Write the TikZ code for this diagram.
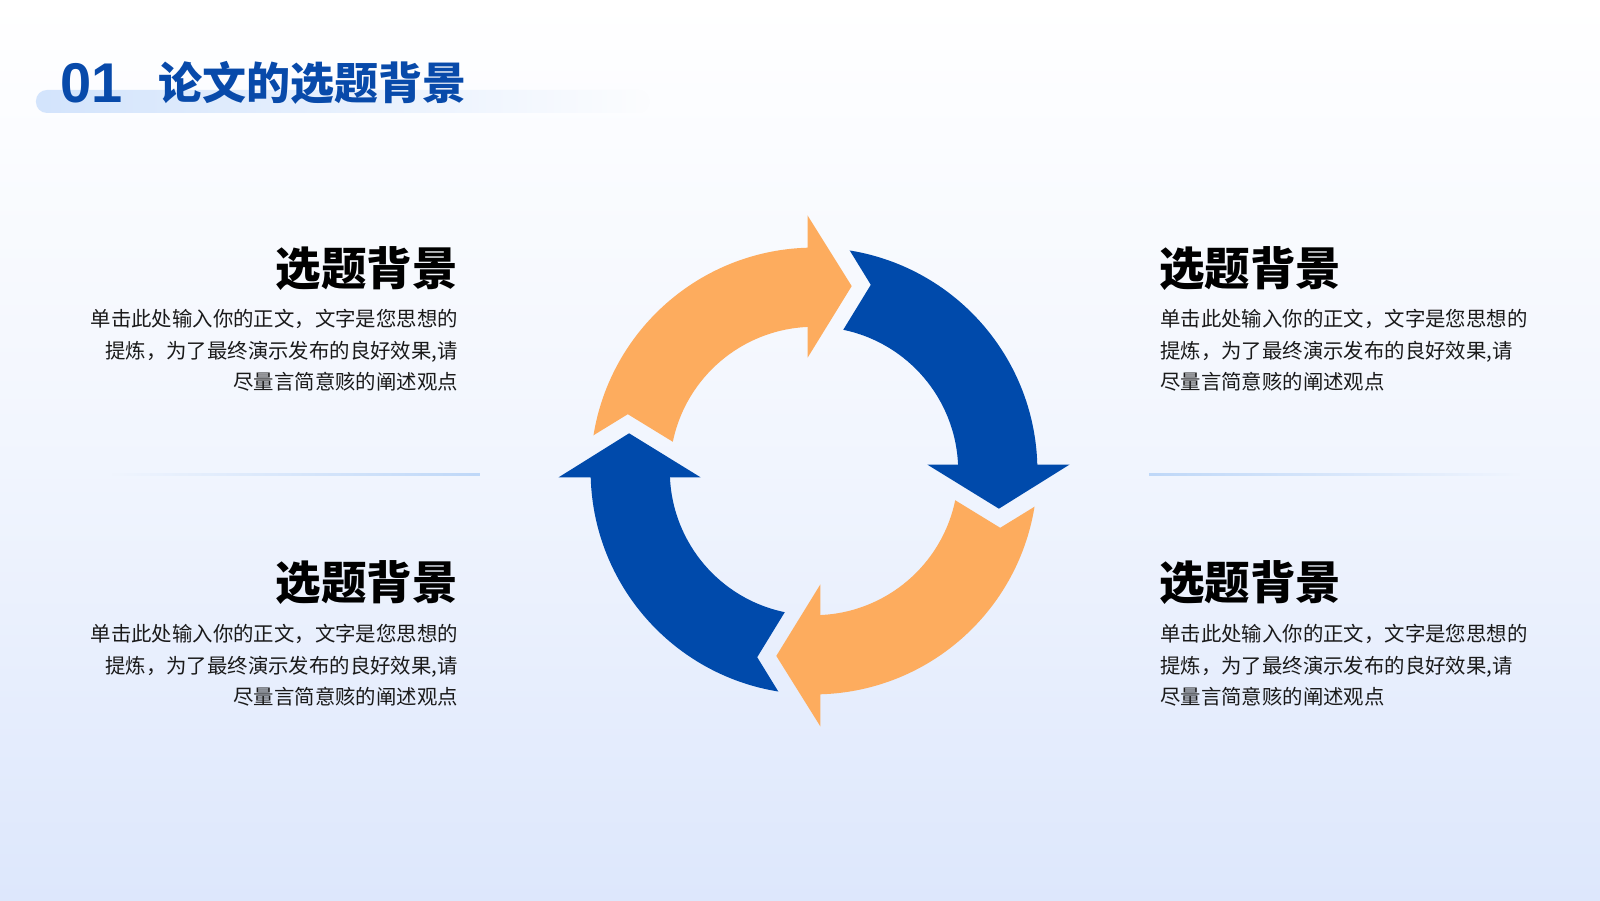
\documentclass[tikz,border=0pt]{standalone}
\usepackage{fontspec}
\setmainfont{Noto Sans CJK SC}
\newfontfamily\cjk{Noto Sans CJK SC}
\newfontfamily\numfont{Liberation Sans}
\usetikzlibrary{fadings}
\definecolor{bgtop}{HTML}{FFFFFF}
\definecolor{bgbot}{HTML}{DDE7FC}
\definecolor{arrowblue}{RGB}{0,74,171}
\definecolor{arroworange}{RGB}{253,172,94}
\definecolor{titleblue}{RGB}{8,74,170}
\definecolor{barblue}{HTML}{D3E4FC}
\definecolor{lineblue}{HTML}{BFD8F8}
\definecolor{bodytxt}{HTML}{1A1A1A}
\begin{document}
\begin{tikzpicture}[x=1pt,y=1pt,
  hd/.style={font=\cjk\bfseries\fontsize{45.5}{45.5}\selectfont, text=black, inner sep=0pt},
  bd/.style={font=\cjk\fontsize{20.4}{31}\selectfont, text=bodytxt, inner sep=0pt}]
\useasboundingbox (0,0) rectangle (1600,900);
% background
\shade[top color=bgtop, bottom color=bgbot, middle color=bgtop!60!bgbot] (0,0) rectangle (1600,900);
% title bar
\fill[barblue, path fading=east, rounded corners=11pt] (36,787) rectangle (650,810);
\node[anchor=base west, inner sep=0pt, text=titleblue, font=\numfont\bfseries\fontsize{56}{56}\selectfont] (num) at (60,797) {01};
\node[anchor=base west, inner sep=0pt, text=titleblue, font=\cjk\bfseries\fontsize{44}{44}\selectfont] (title) at (158,800) {论文的选题背景};
% dividers
\fill[lineblue, path fading=west] (112,424) rectangle (480,427);
\fill[lineblue, path fading=east] (1149,424) rectangle (1520,427);
% cycle arrows
\foreach \k/\c in {0/arroworange,1/arrowblue,2/arroworange,3/arrowblue}{
  \begin{scope}[shift={(814,429)}, rotate=-90*\k]
    \fill[\c] (-6.4,255.5) -- (37.7,184.9) -- (-6.4,113.3) -- (92.5:144.2)
      arc[start angle=92.5, end angle=168.3, radius=144.2]
      -- (-186.2,56.8) -- (170.8:223.4)
      arc[start angle=170.8, end angle=91.64, radius=223.4] -- cycle;
  \end{scope}
}
% left top block
\node[hd, anchor=base east] (hlt) at (458,614) {选题背景};
\node[bd, anchor=base east] (lt1) at (458,573) {单击此处输入你的正文，文字是您思想的};
\node[bd, anchor=base east] (lt2) at (458,541.5) {提炼，为了最终演示发布的良好效果,请};
\node[bd, anchor=base east] (lt3) at (458,510.5) {尽量言简意赅的阐述观点};
% left bottom block
\node[hd, anchor=base east] (hlb) at (458,300) {选题背景};
\node[bd, anchor=base east] (lb1) at (458,258.5) {单击此处输入你的正文，文字是您思想的};
\node[bd, anchor=base east] (lb2) at (458,227) {提炼，为了最终演示发布的良好效果,请};
\node[bd, anchor=base east] (lb3) at (458,196) {尽量言简意赅的阐述观点};
% right top block
\node[hd, anchor=base west] (hrt) at (1159,614) {选题背景};
\node[bd, anchor=base west] (rt1) at (1160,573) {单击此处输入你的正文，文字是您思想的};
\node[bd, anchor=base west] (rt2) at (1160,541.5) {提炼，为了最终演示发布的良好效果,请};
\node[bd, anchor=base west] (rt3) at (1160,510.5) {尽量言简意赅的阐述观点};
% right bottom block
\node[hd, anchor=base west] (hrb) at (1159,300) {选题背景};
\node[bd, anchor=base west] (rb1) at (1160,258.5) {单击此处输入你的正文，文字是您思想的};
\node[bd, anchor=base west] (rb2) at (1160,227) {提炼，为了最终演示发布的良好效果,请};
\node[bd, anchor=base west] (rb3) at (1160,196) {尽量言简意赅的阐述观点};
\end{tikzpicture}
\end{document}
